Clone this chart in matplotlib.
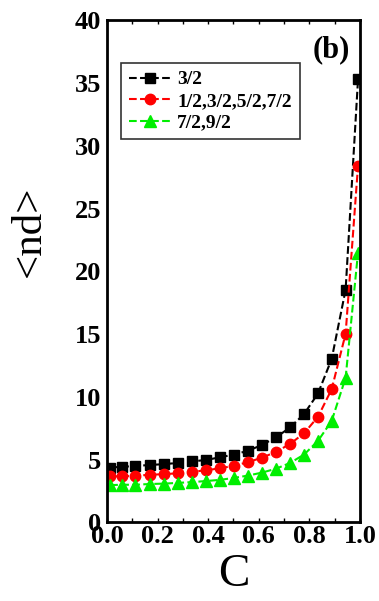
import numpy as np
import matplotlib
matplotlib.use("Agg")
import matplotlib.pyplot as plt
from matplotlib.ticker import MultipleLocator

plt.rcParams["font.family"] = ["Liberation Serif", "DejaVu Serif"]

# data
c = [0.013, 0.059, 0.112, 0.170, 0.225, 0.280, 0.337, 0.393, 0.447, 0.503,
     0.557, 0.613, 0.668, 0.724, 0.779, 0.834, 0.888, 0.943, 0.992]
nd_32 = [4.36, 4.42, 4.48, 4.57, 4.63, 4.73, 4.85, 4.97, 5.18, 5.40,
         5.70, 6.16, 6.77, 7.56, 8.63, 10.27, 13.02, 18.54, 35.3]
nd_mix = [3.66, 3.66, 3.72, 3.78, 3.84, 3.90, 4.02, 4.15, 4.30, 4.51,
          4.79, 5.15, 5.61, 6.25, 7.10, 8.41, 10.61, 15.03, 28.4]
nd_79 = [2.96, 2.99, 2.99, 3.05, 3.08, 3.14, 3.20, 3.29, 3.38, 3.54,
         3.72, 3.96, 4.27, 4.73, 5.40, 6.49, 8.08, 11.52, 21.5]
labels = ["3/2", "1/2,3/2,5/2,7/2", "7/2,9/2"]

fig = plt.figure(figsize=(3.79, 6.01), dpi=100)
ax = fig.add_axes([0.282, 0.131, 0.668, 0.835])

ax.plot(c, nd_32, "--s", color="black", ms=7, lw=1.5, label=labels[0])
ax.plot(c, nd_mix, "--o", color="red", ms=7.5, lw=1.5, label=labels[1])
ax.plot(c, nd_79, "--^", color="#00ee00", ms=8, lw=1.5, label=labels[2])

ax.set_xlim(0, 1.0)
ax.set_ylim(0, 40)
ax.xaxis.set_minor_locator(MultipleLocator(0.1))
ax.tick_params(which="both", direction="in", top=True, right=True,
               length=3, width=1, labelsize=19, pad=2)
ax.tick_params(axis="y", length=0, pad=4)
ax.set_xticks([0.0, 0.2, 0.4, 0.6, 0.8, 1.0])
ax.set_xticklabels(["0.0", "0.2", "0.4", "0.6", "0.8", "1.0"], fontweight="bold")
ax.set_yticks(range(0, 41, 5))
ax.set_yticklabels([str(v) for v in range(0, 41, 5)], fontweight="bold")
for s in ax.spines.values():
    s.set_linewidth(2)

ax.set_xlabel("C", fontsize=34, labelpad=4)
ax.set_ylabel("<nd>", fontsize=31)
ax.yaxis.set_label_coords(-0.23, 0.58)
ax.text(0.96, 0.97, "(b)", transform=ax.transAxes, fontsize=22,
        fontweight="bold", ha="right", va="top")

leg = ax.legend(loc="upper left", bbox_to_anchor=(0.055, 0.915),
                prop={"weight": "bold", "size": 14}, fancybox=False,
                edgecolor="black", handlelength=2.2, handletextpad=0.3,
                borderpad=0.4, labelspacing=0.2, borderaxespad=0)
leg.get_frame().set_linewidth(1.2)

fig.savefig("out.png", dpi=100)
